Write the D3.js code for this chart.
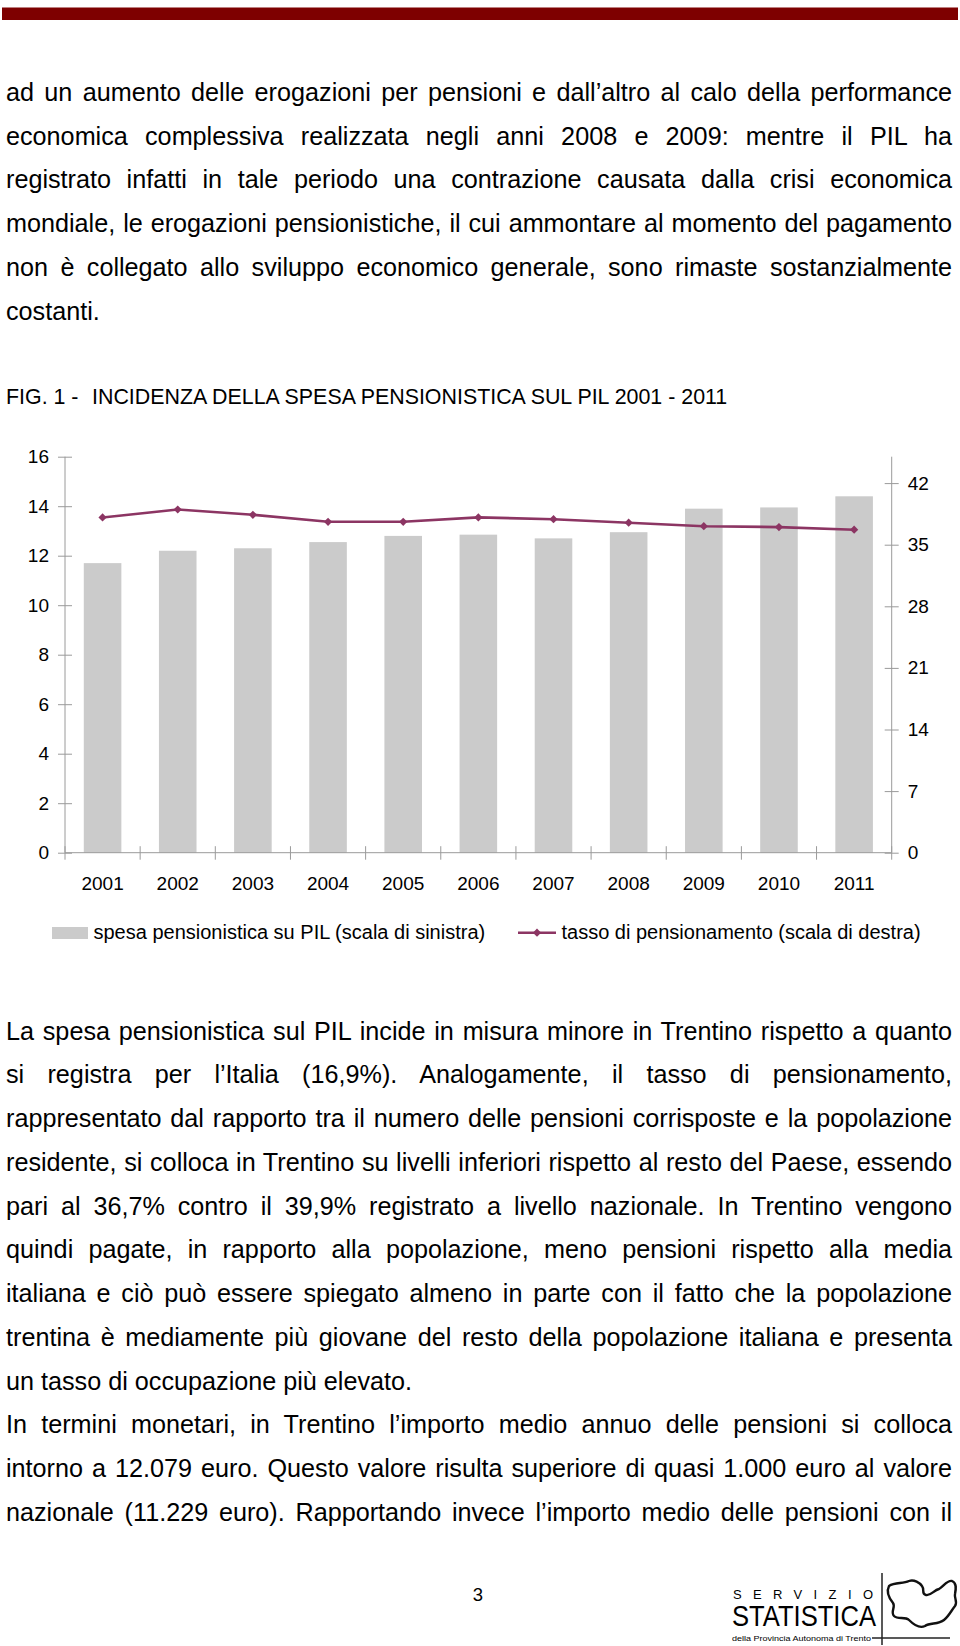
<!DOCTYPE html>
<html><head><meta charset="utf-8">
<script src="https://cdn.jsdelivr.net/npm/d3@7"></script>
<style>
body{margin:0;background:#fff;}
#page{position:relative;width:960px;height:1646px;overflow:hidden;background:#fff;font-family:"Liberation Sans",Arial,Helvetica,sans-serif;color:#000;}
.ln{position:absolute;left:6px;width:946px;font-size:25.2px;line-height:30px;height:30px;text-align:justify;text-align-last:justify;}
.ln.last{text-align:left;text-align-last:left;}
svg{position:absolute;left:0;top:0;}
</style></head><body><div id="page"></div>
<script>
// ---- data ----
const years = ["2001","2002","2003","2004","2005","2006","2007","2008","2009","2010","2011"];
const spesaPIL = [11.7, 12.2, 12.3, 12.55, 12.8, 12.85, 12.7, 12.95, 13.9, 13.95, 14.4];
const tassoPens = [38.1, 39.0, 38.4, 37.6, 37.6, 38.1, 37.9, 37.5, 37.1, 37.0, 36.7];
const leftTicks = [0, 2, 4, 6, 8, 10, 12, 14, 16];
const rightTicks = [0, 7, 14, 21, 28, 35, 42];
const leftMax = 16, rightMax = 45;
const titleFig = "FIG. 1 -";
const titleText = "INCIDENZA DELLA SPESA PENSIONISTICA SUL PIL 2001 - 2011";
const legendLabels = ["spesa pensionistica su PIL (scala di sinistra)", "tasso di pensionamento (scala di destra)"];
const para1 = [
 "ad un aumento delle erogazioni per pensioni e dall\u2019altro al calo della performance",
 "economica complessiva realizzata negli anni 2008 e 2009: mentre il PIL ha",
 "registrato infatti in tale periodo una contrazione causata dalla crisi economica",
 "mondiale, le erogazioni pensionistiche, il cui ammontare al momento del pagamento",
 "non è collegato allo sviluppo economico generale, sono rimaste sostanzialmente",
 "costanti."
];
const para1Last = [5];
const para2 = [
 "La spesa pensionistica sul PIL incide in misura minore in Trentino rispetto a quanto",
 "si registra per l\u2019Italia (16,9%). Analogamente, il tasso di pensionamento,",
 "rappresentato dal rapporto tra il numero delle pensioni corrisposte e la popolazione",
 "residente, si colloca in Trentino su livelli inferiori rispetto al resto del Paese, essendo",
 "pari al 36,7% contro il 39,9% registrato a livello nazionale. In Trentino vengono",
 "quindi pagate, in rapporto alla popolazione, meno pensioni rispetto alla media",
 "italiana e ciò può essere spiegato almeno in parte con il fatto che la popolazione",
 "trentina è mediamente più giovane del resto della popolazione italiana e presenta",
 "un tasso di occupazione più elevato.",
 "In termini monetari, in Trentino l\u2019importo medio annuo delle pensioni si colloca",
 "intorno a 12.079 euro. Questo valore risulta superiore di quasi 1.000 euro al valore",
 "nazionale (11.229 euro). Rapportando invece l\u2019importo medio delle pensioni con il"
];
const para2Last = [8];
const pageNumber = "3";

// ---- page ----
const page = d3.select("#page");
const svg = page.append("svg").attr("width", 960).attr("height", 1646);
const FONT = '"Liberation Sans",Arial,Helvetica,sans-serif';

// top bar
svg.append("rect").attr("x", 2).attr("y", 7.5).attr("width", 956).attr("height", 12.5).attr("fill", "#7e0000");

// paragraphs
function addPara(lines, lastIdx, firstBaseline, step) {
  lines.forEach((t, i) => {
    page.append("div").attr("class", "ln" + (lastIdx.includes(i) ? " last" : ""))
      .style("top", (firstBaseline + i * step - 23.7) + "px").text(t);
  });
}
addPara(para1, para1Last, 100.7, 43.7);
addPara(para2, para2Last, 1039.3, 43.75);

// title
svg.append("text").attr("x", 6).attr("y", 404).attr("font-family", FONT).attr("font-size", 21.4).text(titleFig);
svg.append("text").attr("x", 92).attr("y", 404).attr("font-family", FONT).attr("font-size", 21.4).text(titleText);

// ---- chart ----
const x0 = 65, x1 = 891.7, yTop = 456.7, yBot = 852.7;
const AX = "#9a9a9a";
const x = d3.scaleBand().domain(years).range([x0, x1]).paddingInner(0.5).paddingOuter(0.25);
const yL = d3.scaleLinear().domain([0, leftMax]).range([yBot, yTop]);
const yR = d3.scaleLinear().domain([0, rightMax]).range([yBot, yTop]);
const step = x.step();

const g = svg.append("g");

// bars
g.selectAll("rect.bar").data(years).join("rect").attr("class", "bar")
  .attr("x", d => x(d)).attr("width", x.bandwidth())
  .attr("y", (d, i) => yL(spesaPIL[i])).attr("height", (d, i) => yBot - yL(spesaPIL[i]))
  .attr("fill", "#cbcbcb");

// left axis
const axL = g.append("g").attr("transform", `translate(${x0},0)`)
  .call(d3.axisLeft(yL).tickValues(leftTicks).tickSize(7).tickPadding(9).tickFormat(d3.format("d")));
axL.select(".domain").attr("stroke", AX).attr("d", `M0,${yTop}V${yBot}`);
axL.selectAll(".tick line").attr("stroke", AX).attr("x1", 7).attr("x2", -7);
axL.selectAll("text").attr("font-family", FONT).attr("font-size", 19).attr("fill", "#000");

// right axis
const axR = g.append("g").attr("transform", `translate(${x1},0)`)
  .call(d3.axisRight(yR).tickValues(rightTicks).tickSize(7).tickPadding(9).tickFormat(d3.format("d")));
axR.select(".domain").attr("stroke", AX).attr("d", `M0,${yTop}V${yBot}`);
axR.selectAll(".tick line").attr("stroke", AX).attr("x1", -7).attr("x2", 7);
axR.selectAll("text").attr("font-family", FONT).attr("font-size", 19).attr("fill", "#000");

// bottom axis
const axB = g.append("g").attr("transform", `translate(0,${yBot})`)
  .call(d3.axisBottom(x).tickSize(0).tickPadding(24));
axB.select(".domain").attr("stroke", AX).attr("d", `M${x0},0H${x1}`);
axB.selectAll("text").attr("font-family", FONT).attr("font-size", 19).attr("fill", "#000");
// category boundary ticks
const bounds = d3.range(years.length + 1).map(i => x0 + i * step);
axB.selectAll("line.bt").data(bounds).join("line").attr("class", "bt")
  .attr("x1", d => d).attr("x2", d => d).attr("y1", -6.5).attr("y2", 7)
  .attr("stroke", AX);

// line
const cx = d => x(d) + x.bandwidth() / 2;
const lineGen = d3.line().x((d, i) => cx(years[i])).y(d => yR(d));
const LC = "#8c3563";
g.append("path").datum(tassoPens).attr("d", lineGen).attr("fill", "none").attr("stroke", LC).attr("stroke-width", 2.6);
const diamond = d3.symbol().type(d3.symbolSquare).size(34);
g.selectAll("path.pt").data(tassoPens).join("path").attr("class", "pt")
  .attr("d", diamond).attr("fill", LC)
  .attr("transform", (d, i) => `translate(${cx(years[i])},${yR(d)}) rotate(45)`);

// legend
const lg = svg.append("g");
lg.append("rect").attr("x", 52).attr("y", 927).attr("width", 36).attr("height", 12).attr("fill", "#cbcbcb");
lg.append("text").attr("x", 93.5).attr("y", 939.3).attr("font-family", FONT).attr("font-size", 20).text(legendLabels[0]);
lg.append("line").attr("x1", 518).attr("x2", 556).attr("y1", 932.7).attr("y2", 932.7).attr("stroke", LC).attr("stroke-width", 2.6);
lg.append("path").attr("d", diamond).attr("fill", LC).attr("transform", "translate(537,932.7) rotate(45)");
lg.append("text").attr("x", 561.5).attr("y", 939.3).attr("font-family", FONT).attr("font-size", 20).text(legendLabels[1]);

// page number
svg.append("text").attr("x", 478).attr("y", 1601).attr("text-anchor", "middle").attr("font-family", FONT).attr("font-size", 18.5).text(pageNumber);

// logo
const lo = svg.append("g");
lo.append("text").attr("x", 733).attr("y", 1599).attr("font-family", FONT).attr("font-size", 13)
  .attr("textLength", 140).attr("lengthAdjust", "spacing").text("SERVIZIO");
lo.append("text").attr("x", 732).attr("y", 1626).attr("font-family", FONT).attr("font-size", 30)
  .attr("textLength", 144).attr("lengthAdjust", "spacingAndGlyphs").text("STATISTICA");
lo.append("text").attr("x", 732).attr("y", 1641).attr("font-family", FONT).attr("font-size", 7.5)
  .attr("textLength", 139).attr("lengthAdjust", "spacingAndGlyphs").text("della Provincia Autonoma di Trento");
lo.append("line").attr("x1", 882).attr("x2", 882).attr("y1", 1573).attr("y2", 1645).attr("stroke", "#222").attr("stroke-width", 1.5);
lo.append("line").attr("x1", 872).attr("x2", 950).attr("y1", 1638).attr("y2", 1638).attr("stroke", "#222").attr("stroke-width", 1.5);
lo.append("path").attr("fill", "none").attr("stroke", "#111").attr("stroke-width", 2.4).attr("stroke-linejoin", "round")
  .attr("d", "M889,1586 C895,1582 903,1584 909,1581 C914,1579 920,1583 922,1586 C925,1590 921,1594 926,1595 C931,1596 934,1590 939,1589 C944,1586 947,1580 952,1581 C957,1583 956,1589 955,1594 C954,1598 958,1602 955,1606 C951,1611 949,1616 944,1620 C938,1625 930,1622 925,1626 C919,1629 913,1624 909,1620 C905,1616 898,1620 894,1616 C890,1612 896,1607 893,1603 C889,1598 886,1592 889,1586 Z");
</script></body></html>
